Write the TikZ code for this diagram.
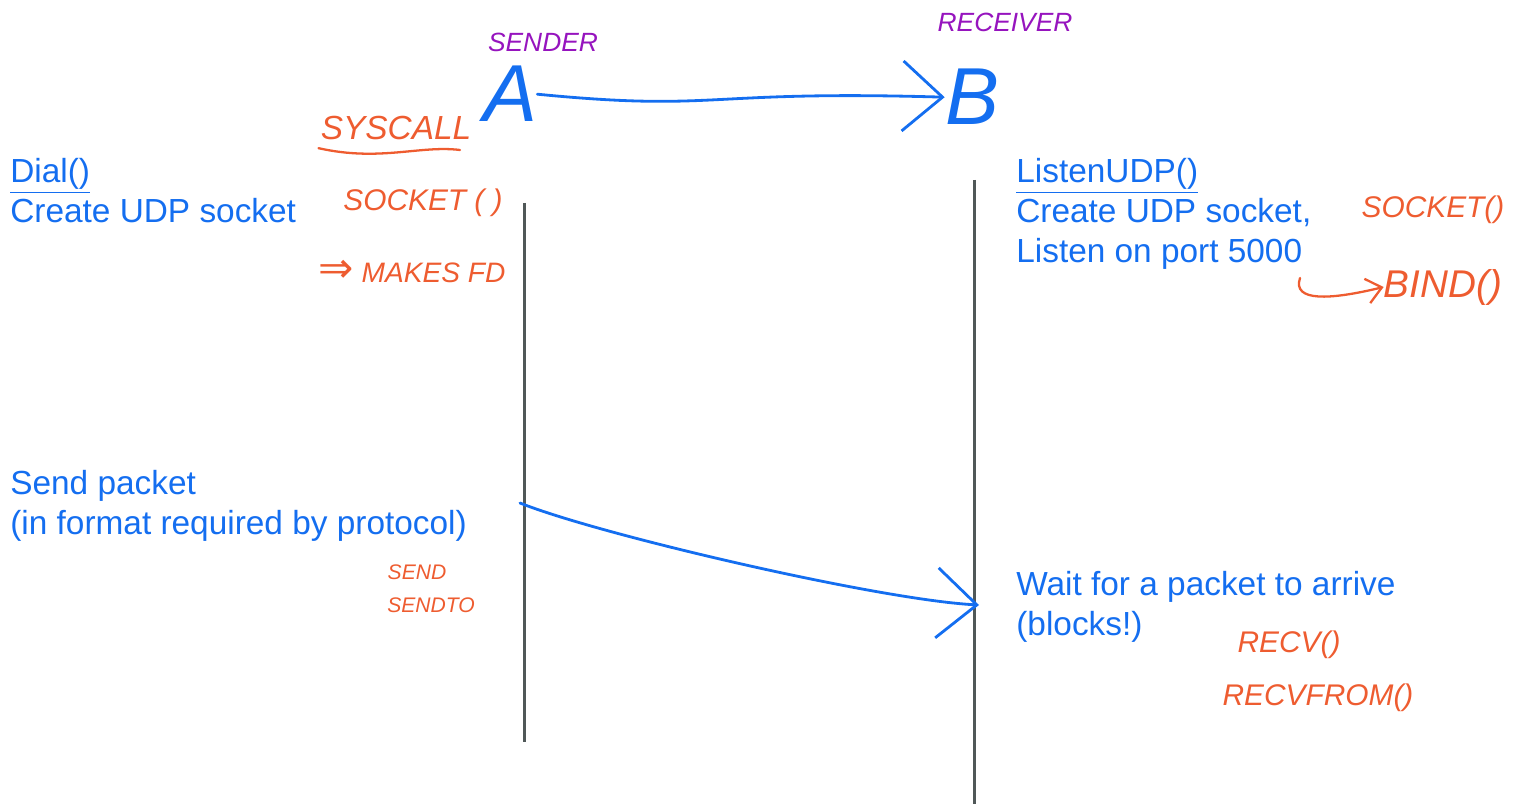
\documentclass[tikz,border=0pt]{standalone}
\usepackage{fontspec}
\setmainfont{Liberation Sans}
\newfontfamily\symfont{DejaVu Sans}
\usetikzlibrary{arrows.meta}
\definecolor{inkblue}{RGB}{20,110,240}
\definecolor{inkorange}{RGB}{238,92,48}
\definecolor{inkpurple}{RGB}{150,20,190}
\definecolor{lifeline}{RGB}{80,88,88}

\begin{document}
\begin{tikzpicture}[x=0.02cm,y=-0.02cm]
        \tikzset{
          typed/.style={text=inkblue, font=\fontsize{19}{22.7}\selectfont, align=left, inner sep=0pt, anchor=north west},
          scrawl/.style={text=inkorange, font=\fontsize{17}{20}\selectfont\itshape, inner sep=0pt},
          role/.style={text=inkpurple, font=\fontsize{15}{18}\selectfont\itshape, inner sep=0pt},
          host/.style={text=inkblue, font=\fontsize{46}{50}\selectfont\itshape, inner sep=0pt, anchor=base},
          pen/.style={draw=inkblue, line width=1.6pt, line cap=round, -{Straight Barb[length=8mm, width=14mm, line width=1.6pt]}}
        }
        \useasboundingbox (0,0) rectangle (1527,804);
        % hosts
        \node[role] (sender)   at (543,  42) {SENDER};
        \node[role] (receiver) at (1005, 22) {RECEIVER};
        \node[host] (A) at (510, 122) {A};
        \node[host] (B) at (972, 125) {B};
        \draw[pen] (A.east) .. controls (720,112) and (700,90) .. (B.west);
        % lifelines
        \coordinate (a-top) at (524, 203);
        \coordinate (a-bot) at (524, 742);
        \coordinate (b-top) at (974, 180);
        \coordinate (b-bot) at (974, 804);
        \draw[lifeline, line width=1.7pt] (a-top) -- (a-bot);
        \draw[lifeline, line width=1.7pt] (b-top) -- (b-bot);
        % typed notes
        \node[typed] (dial)   at (10,  158)  {\underline{Dial()}\\Create UDP socket};
        \node[typed] (send)   at (10,  470)  {Send packet\\(in format required by protocol)};
        \node[typed] (listen) at (1016, 158) {\underline{ListenUDP()}\\Create UDP socket,\\Listen on port 5000};
        \node[typed] (wait)   at (1016, 571) {Wait for a packet to arrive\\(blocks!)};
        % handwritten syscalls
        \node[scrawl, font=\fontsize{19}{22}\selectfont\itshape] (syscall) at (396, 128) {SYSCALL};
        \draw[inkorange, line width=1.3pt, line cap=round] (syscall.south west) ++(-2,8) .. controls (380,162) and (420,145) .. (460,150);
        \node[scrawl] (socket-a) at (423, 203) {SOCKET ( )};
        \node[scrawl, font=\fontsize{16}{19}\selectfont\itshape] (makes) at (412, 272) {{\symfont\fontsize{24}{26}\selectfont ⇒} MAKES FD};
        \node[scrawl, font=\fontsize{12}{14}\selectfont\itshape] (sendcall) at (417, 572) {SEND};
        \node[scrawl, font=\fontsize{12}{14}\selectfont\itshape] (sendto)   at (431, 605) {SENDTO};
        \node[scrawl] (socket-b) at (1433, 210) {SOCKET()};
        \node[scrawl, font=\fontsize{22}{25}\selectfont\itshape] (bind) at (1443, 287) {BIND()};
        \coordinate (hook) at (1300, 278);
        \draw[draw=inkorange, line width=1.3pt, line cap=round, -{Straight Barb[length=3mm, width=5mm, line width=1.3pt]}]
          (hook) .. controls (1292,302) and (1330,300) .. (bind.west);
        \node[scrawl] (recv)     at (1289, 645) {RECV()};
        \node[scrawl] (recvfrom) at (1318, 698) {RECVFROM()};
        % the packet
        \coordinate (depart) at (520, 503);
        \coordinate (arrive) at (979, 605);
        \draw[pen] (depart) .. controls (600,535) and (880,600) .. (arrive);
\end{tikzpicture}
\end{document}
